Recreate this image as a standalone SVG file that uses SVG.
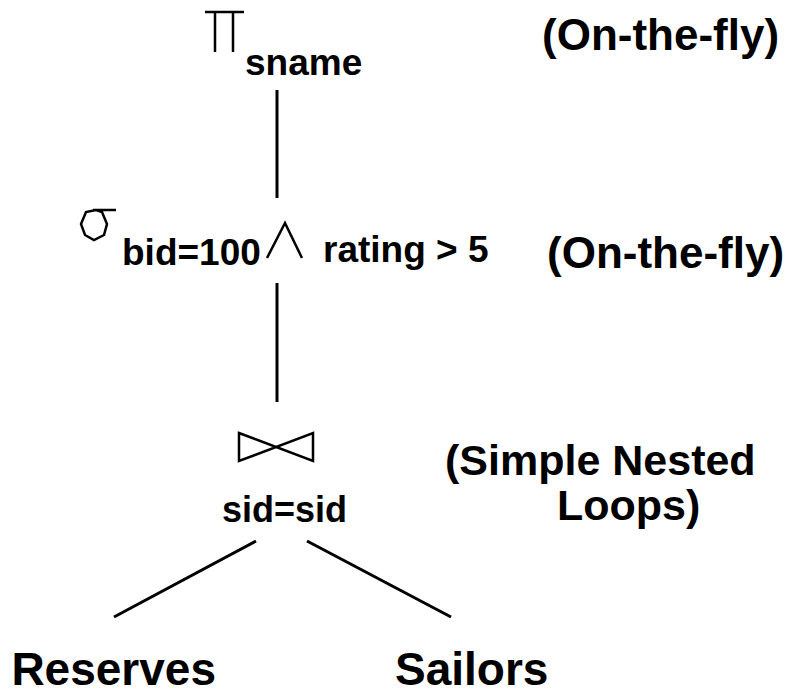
<svg xmlns="http://www.w3.org/2000/svg" width="805" height="694" viewBox="0 0 805 694">
<style>
text{font-family:"Liberation Sans",Arial,sans-serif;font-weight:bold;fill:#000}
.sym{fill:none;stroke:#000;stroke-width:2.5;stroke-linejoin:miter}
.edge{stroke:#000;stroke-width:3;fill:none}
</style>
<rect width="805" height="694" fill="#fff"/>
<g id="project">
<path class="sym" d="M205,12 H244 M215,12 V52 M233,12 V52"/>
<text x="245" y="75" font-size="37">sname</text>
<text x="542" y="50" font-size="44">(On-the-fly)</text>
</g>
<g id="select">
<path class="sym" d="M93,210 H116 M96,210 L86,212 L81,224 L85,235 L94,240 L104,235 L107,224 L102,212 Z"/>
<text x="122" y="265" font-size="37">bid=100</text>
<path class="sym" d="M267,258 L285,223 L302,258"/>
<text x="323" y="262" font-size="37">rating &gt; 5</text>
<text x="547" y="268" font-size="44">(On-the-fly)</text>
</g>
<g id="join">
<polygon class="sym" points="239,433 313,461 313,433 239,461"/>
<text x="222" y="522" font-size="36">sid=sid</text>
<text x="445" y="475" font-size="43">(Simple Nested</text>
<text x="557" y="520" font-size="43">Loops)</text>
</g>
<g id="reserves">
<text x="216" y="685" font-size="46" text-anchor="end">Reserves</text>
</g>
<g id="sailors">
<text x="395" y="685" font-size="46">Sailors</text>
</g>
<g id="connectors">
<line class="edge" x1="277" y1="90" x2="277" y2="198"/>
<line class="edge" x1="277" y1="283" x2="277" y2="402"/>
<line class="edge" x1="114" y1="617" x2="256" y2="541"/>
<line class="edge" x1="307" y1="541" x2="451" y2="617"/>
</g>
</svg>
